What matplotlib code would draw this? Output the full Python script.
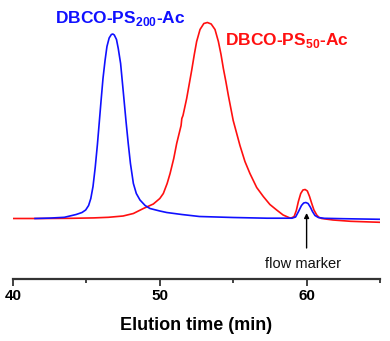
import matplotlib
matplotlib.use("Agg")
import matplotlib.pyplot as plt

plt.rcParams['font.family'] = ['Liberation Sans', 'DejaVu Sans']
plt.rcParams['mathtext.fontset'] = 'custom'
plt.rcParams['mathtext.rm'] = 'Liberation Sans'
plt.rcParams['mathtext.bf'] = 'Liberation Sans:bold'

# DBCO-PS200-Ac trace (elution time in min, detector signal, arbitrary units)
blue_t = [41.5, 42.5, 43.5, 44.3, 44.7, 44.95, 45.15, 45.3, 45.45, 45.6, 45.75,
          45.87, 46.0, 46.13, 46.27, 46.4, 46.55, 46.7, 46.8, 46.9, 47.05,
          47.17, 47.33, 47.51, 47.7, 47.85, 48.0, 48.2, 48.4, 48.65, 49.0,
          49.33, 50.0, 50.47, 51.5, 52.7, 55.0, 57.3, 59.0, 59.25, 59.45,
          59.65, 59.8, 59.95, 60.1, 60.25, 60.4, 60.57, 60.8, 61.2, 62.5, 65.0]
blue_h = [0, 0.4, 1.2, 4, 6, 8.5, 13, 20, 32, 51, 74,
          95, 118, 140, 158, 172, 180.5, 184, 184.5, 183.5, 179,
          170, 155, 127, 97, 75, 55, 35, 25, 18.5, 13,
          10, 7.5, 6, 4, 2, 1, 0.3, 0.3, 1.5, 7,
          13, 15.5, 16, 15, 11.5, 7, 3, 1, 0.2, -0.2, -0.8]

# DBCO-PS50-Ac trace
red_t = [40, 42, 44, 45.5, 46.5, 47.5, 48.2, 48.88, 49.56, 50.0, 50.24, 50.5,
         50.7, 50.95, 51.15, 51.3, 51.45, 51.5, 51.58, 51.83, 52.0, 52.17,
         52.35, 52.51, 52.74, 53.0, 53.24, 53.5, 53.76, 53.99, 54.17, 54.33,
         54.5, 54.67, 55.0, 55.46, 55.8, 56.14, 56.6, 57.05, 57.5, 57.96,
         58.4, 58.87, 59.0, 59.15, 59.3, 59.44, 59.6, 59.75, 59.9, 60.05,
         60.2, 60.35, 60.5, 60.69, 60.85, 61.03, 61.8, 63.0, 65.0]
red_h = [0, 0, 0.2, 0.6, 1.2, 2.5, 5, 10, 14.5, 20, 25, 35,
         45, 60, 75, 84, 93, 100, 103, 120, 134, 148,
         164, 177, 189, 195, 196, 194.5, 189, 177, 164, 150,
         137, 123, 98, 73, 57, 45, 31, 22, 14, 8.5,
         3.5, 0.5, 0.8, 2, 8, 17, 25, 28.5, 29, 27.5,
         22, 15, 8.5, 3.5, 1, 0, -1.5, -2.8, -3.8]

xticks = [40, 50, 60]
minor_xticks = [45, 55, 65]

fig = plt.figure(figsize=(3.9, 3.41), dpi=100)
ax = fig.add_axes([13 / 390, 1 - 279 / 341, 367 / 390, 269 / 341])

ax.plot(red_t, red_h, color='#ff1010', lw=1.2)
ax.plot(blue_t, blue_h, color='#1010ff', lw=1.2)

ax.set_xlim(40, 65)
ax.set_ylim(-60.5, 208.5)

for side in ['left', 'right', 'top']:
    ax.spines[side].set_visible(False)
ax.spines['bottom'].set_linewidth(1.6)
ax.spines['bottom'].set_color('#333333')
ax.set_yticks([])
ax.set_xticks(xticks)
ax.set_xticks(minor_xticks, minor=True)
ax.tick_params(axis='x', which='major', direction='out', length=5, width=1.3,
               labelsize=11, pad=2, color='#333333')
ax.tick_params(axis='x', which='minor', direction='out', length=3, width=1.3,
               color='#333333')
for lab in ax.get_xticklabels():
    lab.set_fontweight('bold')

ax.set_xlabel('Elution time (min)', fontsize=13, fontweight='bold', labelpad=10)

ax.text(42.85, 200, r'DBCO-PS$_{\mathbf{200}}$-Ac', color='#1010ff',
        fontsize=12.5, fontweight='bold', va='center', ha='left')
ax.text(54.45, 178.5, r'DBCO-PS$_{\mathbf{50}}$-Ac', color='#ff1010',
        fontsize=12.5, fontweight='bold', va='center', ha='left')

ax.annotate('', xy=(60, 5.5), xytext=(60, -29.5),
            arrowprops=dict(arrowstyle='-|>', color='black', lw=1,
                            mutation_scale=7, shrinkA=0, shrinkB=0))
ax.text(59.75, -45, 'flow marker', fontsize=10.5, ha='center', va='center',
        color='#111111')

fig.savefig('out.png', dpi=100)
